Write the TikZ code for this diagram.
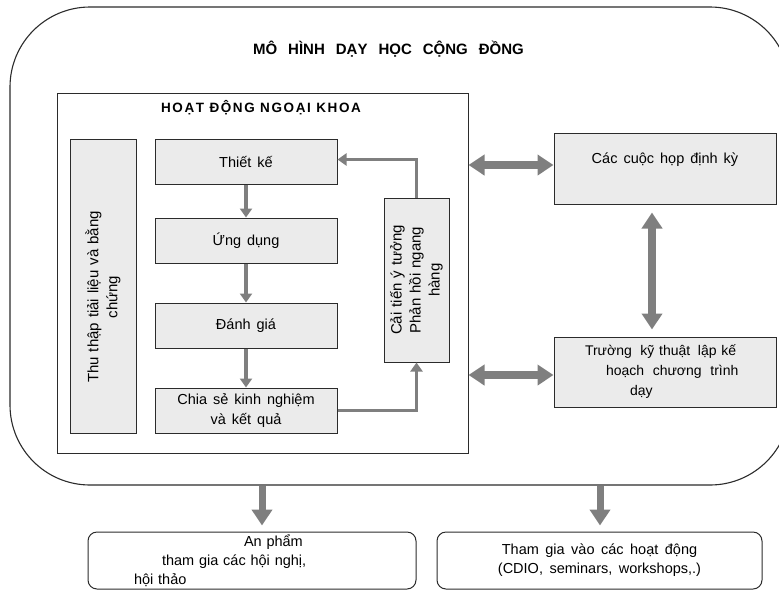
\documentclass[tikz,border=0pt]{standalone}
\usepackage{fontspec}
\setmainfont{Liberation Sans}
\newfontfamily\spacedfont[LetterSpace=12]{Liberation Sans}
\usepackage{tikz}
\usetikzlibrary{arrows.meta,calc,positioning}
\definecolor{edge}{HTML}{2B2B2B}
\definecolor{boxgray}{HTML}{EBEBEB}
\definecolor{arrgray}{HTML}{7F7F7F}
\newcommand{\bodyfont}{\fontsize{14.5}{20}\selectfont\spaceskip=6pt plus 2pt\relax}
\newcommand{\truongfont}{\fontsize{14}{20}\selectfont\spaceskip=6pt plus 2pt\relax}
\newcommand{\sidefont}{\fontsize{15}{19}\selectfont\spaceskip=5pt plus 2pt\relax}
\newcommand{\outfont}{\fontsize{14.5}{19}\selectfont\spaceskip=6.5pt plus 2pt\relax}
\newcommand{\titlefont}{\fontsize{15}{17}\selectfont\bfseries\spaceskip=11pt\relax}
\newcommand{\hdfont}{\fontsize{13.5}{15}\spacedfont\bfseries}

\begin{document}
\begin{tikzpicture}[
  x=1pt,y=-1pt,
  frame/.style={draw=edge,line width=1.1pt,inner sep=0pt},
  box/.style={draw=edge,fill=boxgray,line width=1pt,inner sep=2pt,
    align=center,font=\bodyfont},
  stagebox/.style={box,minimum width=182pt,minimum height=45pt},
  outbox/.style={draw=edge,line width=1pt,rounded corners=9pt,inner sep=2pt,
    minimum height=57pt,align=center,font=\outfont},
  arr/.style={-{Triangle[width=12pt,length=9pt]},draw=arrgray,line width=3.5pt},
  dbl/.style={{Triangle[width=20pt,length=16pt]}-{Triangle[width=20pt,length=16pt]},
    draw=arrgray,line width=8pt},
  bigarr/.style={-{Triangle[width=20pt,length=16pt]},draw=arrgray,line width=7pt}
]
\useasboundingbox (0,0) rectangle (779,590);
% outer frame and titles
\node[frame,rounded corners=80pt,minimum width=780pt,minimum height=478pt]
  (mohinh) at (400,246) {};
\node[font=\titlefont] (title) at (388.5,49.5)
  {MÔ HÌNH DẠY HỌC CỘNG ĐỒNG};
\node[frame,line width=1pt,minimum width=411pt,minimum height=360pt]
  (hdnk) at (262.5,273) {};
\node[font=\hdfont] (hdnktitle) at (261,108)
  {HOẠT ĐỘNG NGOẠI KHOA};
% left column
\node[box,rotate=90,minimum width=294pt,minimum height=66pt,font=\sidefont]
  (thuthap) at (103,286)
  {Thu thập tiải liệu và bằng\hspace*{22pt}\\chứng\hspace*{22pt}};
% stages
\node[stagebox] (thietke) at (246,161.5) {Thiết kế};
\node[stagebox] (ungdung) at (246,240.5) {Ứng dụng};
\node[stagebox] (danhgia) at (246,325.5) {Đánh giá};
\node[stagebox] (chiase) at (246,410.5)
  {Chia sẻ kinh nghiệm\\và kết quả};
\node[box,rotate=90,minimum width=164pt,minimum height=65pt,font=\sidefont]
  (caitien) at (416.5,280)
  {Cải tiến ý tưởng\\Phản hồi ngang\\hàng};
% right column
\node[box,minimum width=222pt,minimum height=71pt,text height=10pt,text depth=21pt]
  (hop) at (665,168.5) {Các cuộc họp định kỳ};
\node[box,minimum width=222pt,minimum height=70pt,text width=214pt,align=left,
  font=\truongfont] (truong) at (665,372)
  {\hspace*{27pt}Trường\hspace{4pt} kỹ thuật\hspace{3pt} lập kế\\
   \hspace*{48pt}hoạch\hspace{4pt} chương\hspace{4pt} trình\\
   \hspace*{72pt}dạy};
% outputs
\node[outbox,minimum width=328pt,text width=320pt,align=left] (anpham) at (252,560.5)
  {\hspace*{152pt}An phẩm\\
   \hspace*{70pt}tham gia các hội nghị,\\
   \hspace*{42pt}hội thảo};
\node[outbox,minimum width=325pt] (thamgia) at (599.5,560.5)
  {Tham gia vào các hoạt động\\(CDIO, seminars, workshops,.)};
% connectors
\draw[arr] (thietke) -- (ungdung);
\draw[arr] (ungdung) -- (danhgia);
\draw[arr] (danhgia) -- (chiase);
\draw[arr] (chiase) -| (caitien);
\draw[arr] (caitien) |- ([yshift=2pt]thietke.east);
\draw[dbl] ([yshift=3.5pt]hdnk.east |- hop.west) -- ([yshift=3.5pt]hop.west);
\draw[dbl] ([yshift=-3pt]hdnk.east |- truong.west) -- ([yshift=-3pt]truong.west);
\draw[dbl,shorten <=8pt,shorten >=7pt] ([xshift=-13pt]hop.south) -- ([xshift=-13pt]truong.north);
\draw[bigarr,shorten >=6pt] ([xshift=10pt]mohinh.south -| anpham.north) -- ([xshift=10pt]anpham.north);
\draw[bigarr,shorten >=6pt] ([xshift=0.5pt]mohinh.south -| thamgia.north) -- ([xshift=0.5pt]thamgia.north);
\end{tikzpicture}
\end{document}
